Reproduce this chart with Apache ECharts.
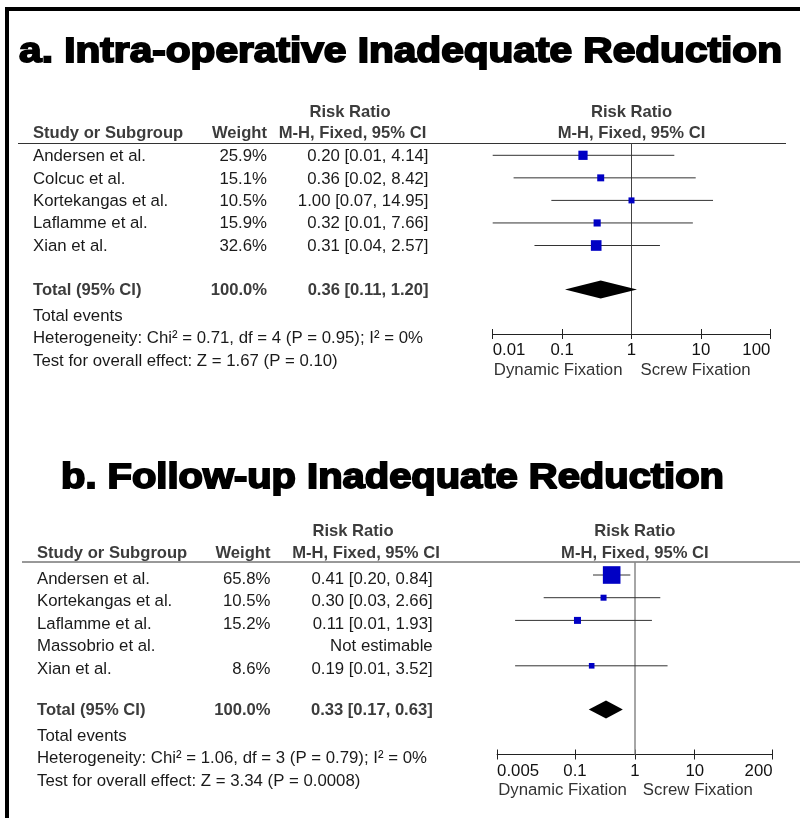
<!DOCTYPE html>
<html><head><meta charset="utf-8">
<script src="https://cdn.jsdelivr.net/npm/echarts@6/dist/echarts.min.js"></script>
<style>html,body{margin:0;padding:0;background:#fff}#c{width:800px;height:818px}</style>
</head><body><div id="c"></div>
<script>
// ---------------- DATA ----------------
const titleA = 'a. Intra-operative Inadequate Reduction';
const studiesA = ['Andersen et al.', 'Colcuc et al.', 'Kortekangas et al.', 'Laflamme et al.', 'Xian et al.'];
const weightsA = [25.9, 15.1, 10.5, 15.9, 32.6];
const rrA = [0.20, 0.36, 1.00, 0.32, 0.31];
const lowA = [0.01, 0.02, 0.07, 0.01, 0.04];
const highA = [4.14, 8.42, 14.95, 7.66, 2.57];
const totalA = [0.36, 0.11, 1.20];           // estimate, low, high
const totalWeightA = '100.0%';
const summaryA = ['Total events', 'Heterogeneity: Chi\u00b2 = 0.71, df = 4 (P = 0.95); I\u00b2 = 0%', 'Test for overall effect: Z = 1.67 (P = 0.10)'];
const ticksA = [0.01, 0.1, 1, 10, 100];
const tickLabelsA = ['0.01', '0.1', '1', '10', '100'];

const titleB = 'b. Follow-up Inadequate Reduction';
const studiesB = ['Andersen et al.', 'Kortekangas et al.', 'Laflamme et al.', 'Massobrio et al.', 'Xian et al.'];
const weightsB = [65.8, 10.5, 15.2, null, 8.6];
const rrB = [0.41, 0.30, 0.11, null, 0.19];
const lowB = [0.20, 0.03, 0.01, null, 0.01];
const highB = [0.84, 2.66, 1.93, null, 3.52];
const totalB = [0.33, 0.17, 0.63];
const totalWeightB = '100.0%';
const summaryB = ['Total events', 'Heterogeneity: Chi\u00b2 = 1.06, df = 3 (P = 0.79); I\u00b2 = 0%', 'Test for overall effect: Z = 3.34 (P = 0.0008)'];
const ticksB = [0.005, 0.1, 1, 10, 200];
const tickLabelsB = ['0.005', '0.1', '1', '10', '200'];

const headerCols = ['Study or Subgroup', 'Weight', 'Risk Ratio', 'M-H, Fixed, 95% CI'];
const totalLabel = 'Total (95% CI)';
const notEstimable = 'Not estimable';
const favoursLeft = 'Dynamic Fixation';
const favoursRight = 'Screw Fixation';

// ---------------- LAYOUT ----------------
const FONT = '"Liberation Sans", Arial, Helvetica, sans-serif';
const fnt = (sz, bold) => (bold ? 'bold ' : '') + sz + 'px ' + FONT;
const BODY = 16.8, HEAD = 16.6;
const panels = [
  { title: titleA, studies: studiesA, weights: weightsA, rr: rrA, low: lowA, high: highA, total: totalA, totalWeight: totalWeightA,
    summary: summaryA, ticks: ticksA, tickLabels: tickLabelsA,
    titleCx: 400.5, titleCy: 52, titleW: 765,
    lineY: 143.5, lineX0: 18, lineX1: 786,
    hdr1Y: 112, hdr2Y: 133, nameX: 33, weightR: 267, ciR: 428.5, rrHdrCx: 350, ciHdrCx: 352.5,
    textY0: 156.7, textStep: 22.35, totalTextY: 290.7, sumY: [316, 338.5, 361],
    gridLeft: 492.7, gridRight: 29.7, gridTop: 143.5, gridBottomY: 334,
    markY0: 155.3, markStep: 22.55, totalRow: 5.95, favY: 370, favGap: 9,
    refColor: '#444', refWidth: 1 },
  { title: titleB, studies: studiesB, weights: weightsB, rr: rrB, low: lowB, high: highB, total: totalB, totalWeight: totalWeightB,
    summary: summaryB, ticks: ticksB, tickLabels: tickLabelsB,
    titleCx: 392.5, titleCy: 478.5, titleW: 665,
    lineY: 562, lineX0: 22, lineX1: 800,
    hdr1Y: 531.5, hdr2Y: 553, nameX: 37, weightR: 270.5, ciR: 432.7, rrHdrCx: 353, ciHdrCx: 366,
    textY0: 579.3, textStep: 22.4, totalTextY: 710.7, sumY: [736, 758.5, 781],
    gridLeft: 497.1, gridRight: 27.4, gridTop: 562, gridBottomY: 754.5,
    markY0: 575, markStep: 22.7, totalRow: 5.93, favY: 790, favGap: 8,
    refColor: '#888', refWidth: 1.5 }
];

const ts = (text, f, fill, align, valign) => ({
  text: text, font: f, textFont: f, fill: fill, textFill: fill,
  align: align, textAlign: align, verticalAlign: valign, textVerticalAlign: valign
});
const measure = (() => { const c = document.createElement('canvas').getContext('2d');
  return (s, f) => { c.font = f; return c.measureText(s).width; }; })();
const fmt2 = v => v.toFixed(2);
const ciText = (e, l, h) => fmt2(e) + ' [' + fmt2(l) + ', ' + fmt2(h) + ']';

const graphics = [
  { type: 'line', shape: { x1: 5, y1: 9, x2: 800, y2: 9 }, style: { stroke: '#000', lineWidth: 4 } },
  { type: 'line', shape: { x1: 7, y1: 7, x2: 7, y2: 818 }, style: { stroke: '#000', lineWidth: 4 } }
];
const grids = [], xAxes = [], yAxes = [], series = [];

panels.forEach((p, k) => {
  // title
  const tf = fnt(34.5, true);
  const sw = 1.8;
  const tw = measure(p.title, tf);
  graphics.push({ type: 'text', x: p.titleCx, y: p.titleCy, scaleX: p.titleW / (tw + sw), silent: true,
    style: Object.assign(ts(p.title, tf, '#000', 'center', 'middle'), { stroke: '#000', lineWidth: sw }) });
  // header line
  graphics.push({ type: 'line', shape: { x1: p.lineX0, y1: p.lineY, x2: p.lineX1, y2: p.lineY }, style: { stroke: '#333', lineWidth: 1 } });
  // headers
  const hc = '#3c3c3c';
  graphics.push({ type: 'text', x: p.nameX, y: p.hdr2Y, style: ts(headerCols[0], fnt(HEAD, true), hc, 'left', 'middle') });
  graphics.push({ type: 'text', x: p.weightR, y: p.hdr2Y, style: ts(headerCols[1], fnt(HEAD, true), hc, 'right', 'middle') });
  graphics.push({ type: 'text', x: p.rrHdrCx, y: p.hdr1Y, style: ts(headerCols[2], fnt(HEAD, true), hc, 'center', 'middle') });
  graphics.push({ type: 'text', x: p.ciHdrCx, y: p.hdr2Y, style: ts(headerCols[3], fnt(HEAD, true), hc, 'center', 'middle') });
  // rows
  const bc = '#1a1a1a';
  p.studies.forEach((s, i) => {
    const y = p.textY0 + p.textStep * i;
    graphics.push({ type: 'text', x: p.nameX, y: y, style: ts(s, fnt(BODY), bc, 'left', 'middle') });
    if (p.weights[i] != null) {
      graphics.push({ type: 'text', x: p.weightR, y: y, style: ts(p.weights[i].toFixed(1) + '%', fnt(BODY), bc, 'right', 'middle') });
      graphics.push({ type: 'text', x: p.ciR, y: y, style: ts(ciText(p.rr[i], p.low[i], p.high[i]), fnt(BODY), bc, 'right', 'middle') });
    } else {
      graphics.push({ type: 'text', x: p.ciR, y: y, style: ts(notEstimable, fnt(BODY), bc, 'right', 'middle') });
    }
  });
  graphics.push({ type: 'text', x: p.nameX, y: p.totalTextY, style: ts(totalLabel, fnt(HEAD, true), hc, 'left', 'middle') });
  graphics.push({ type: 'text', x: p.weightR, y: p.totalTextY, style: ts(p.totalWeight, fnt(HEAD, true), hc, 'right', 'middle') });
  graphics.push({ type: 'text', x: p.ciR, y: p.totalTextY, style: ts(ciText(p.total[0], p.total[1], p.total[2]), fnt(HEAD, true), hc, 'right', 'middle') });
  p.summary.forEach((s, j) => {
    graphics.push({ type: 'text', x: p.nameX, y: p.sumY[j], style: ts(s, fnt(BODY), bc, 'left', 'middle') });
  });

  // grid + axes
  grids.push({ left: p.gridLeft, right: p.gridRight, top: p.gridTop, height: p.gridBottomY - p.gridTop, outerBoundsMode: 'none', containLabel: false });
  const tickFmt = v => { const i = p.ticks.findIndex(t => Math.abs(t - v) / t < 1e-6); return i >= 0 ? p.tickLabels[i] : ''; };
  const xmin = p.ticks[0], xmax = p.ticks[p.ticks.length - 1];
  xAxes.push({ type: 'log', logBase: 10, gridIndex: k, min: xmin, max: xmax, position: 'bottom',
    axisLine: { show: true, onZero: false, lineStyle: { color: '#222', width: 1 } },
    axisTick: { show: true, inside: false, length: 5, customValues: p.ticks, lineStyle: { color: '#222', width: 1 } },
    axisLabel: { show: true, customValues: p.ticks, formatter: tickFmt, margin: 8, color: '#111', fontSize: 16.8, fontFamily: FONT,
      showMinLabel: true, showMaxLabel: true, hideOverlap: false, alignMinLabel: 'left', alignMaxLabel: 'right' },
    splitLine: { show: false }, minorTick: { show: false } });
  xAxes.push({ type: 'log', logBase: 10, gridIndex: k, min: xmin, max: xmax, position: 'bottom',
    axisLine: { show: false, onZero: false },
    axisTick: { show: true, inside: true, length: 5, customValues: p.ticks, lineStyle: { color: '#222', width: 1 } },
    axisLabel: { show: false }, splitLine: { show: false } });
  yAxes.push({ type: 'value', gridIndex: k, inverse: true, show: false,
    min: (p.gridTop - p.markY0) / p.markStep, max: (p.gridBottomY - p.markY0) / p.markStep,
    splitLine: { show: false } });

  const xi = 2 * k;
  const ciData = [], sqData = [];
  p.studies.forEach((s, i) => {
    if (p.rr[i] == null) return;
    ciData.push([p.low[i], p.high[i], i]);
    sqData.push([p.rr[i], i, p.weights[i]]);
  });
  series.push({ type: 'custom', xAxisIndex: xi, yAxisIndex: k, data: ciData, encode: { x: [0, 1], y: 2 }, clip: false, z: 2, silent: true,
    renderItem: (params, api) => {
      const a = api.coord([api.value(0), api.value(2)]), b = api.coord([api.value(1), api.value(2)]);
      return { type: 'line', shape: { x1: a[0], y1: a[1], x2: b[0], y2: b[1] }, style: { stroke: '#333', lineWidth: 1 } };
    },
    markLine: { silent: true, symbol: ['none', 'none'], label: { show: false }, animation: false, z: 1,
      lineStyle: { color: p.refColor, width: p.refWidth, type: 'solid' }, emphasis: { disabled: true },
      data: [{ xAxis: 1 }] } });
  series.push({ type: 'scatter', xAxisIndex: xi, yAxisIndex: k, data: sqData, symbol: 'rect', silent: true, z: 4,
    symbolSize: v => 3.8 + 0.21 * v[2], itemStyle: { color: '#0000c4', opacity: 1 } });
  series.push({ type: 'custom', xAxisIndex: xi, yAxisIndex: k, data: [[p.total[0], p.total[1], p.total[2], p.totalRow]],
    encode: { x: [0, 1, 2], y: 3 }, clip: false, z: 4, silent: true,
    renderItem: (params, api) => {
      const r = api.value(3);
      const c = api.coord([api.value(0), r]), l = api.coord([api.value(1), r]), h = api.coord([api.value(2), r]);
      const hh = 9;
      return { type: 'polygon', shape: { points: [[l[0], c[1]], [c[0], c[1] - hh], [h[0], c[1]], [c[0], c[1] + hh]] }, style: { fill: '#000' } };
    } });
  series.push({ type: 'custom', xAxisIndex: xi, yAxisIndex: k, data: [[1, 0]], encode: { x: 0, y: 1 }, clip: false, z: 5, silent: true,
    renderItem: (params, api) => {
      const x1 = api.coord([api.value(0), api.value(1)])[0];
      return { type: 'group', children: [
        { type: 'text', x: x1, y: p.hdr1Y, style: ts(headerCols[2], fnt(HEAD, true), '#3c3c3c', 'center', 'middle') },
        { type: 'text', x: x1, y: p.hdr2Y, style: ts(headerCols[3], fnt(HEAD, true), '#3c3c3c', 'center', 'middle') },
        { type: 'text', x: x1 - p.favGap, y: p.favY, style: ts(favoursLeft, fnt(BODY), '#333', 'right', 'middle') },
        { type: 'text', x: x1 + p.favGap, y: p.favY, style: ts(favoursRight, fnt(BODY), '#333', 'left', 'middle') }
      ] };
    } });
});

const chart = echarts.init(document.getElementById('c'), null, { renderer: 'canvas', width: 800, height: 818 });
chart.setOption({
  animation: false,
  backgroundColor: '#fff',
  grid: grids, xAxis: xAxes, yAxis: yAxes, series: series,
  graphic: { elements: graphics }
});
</script>
</body></html>
